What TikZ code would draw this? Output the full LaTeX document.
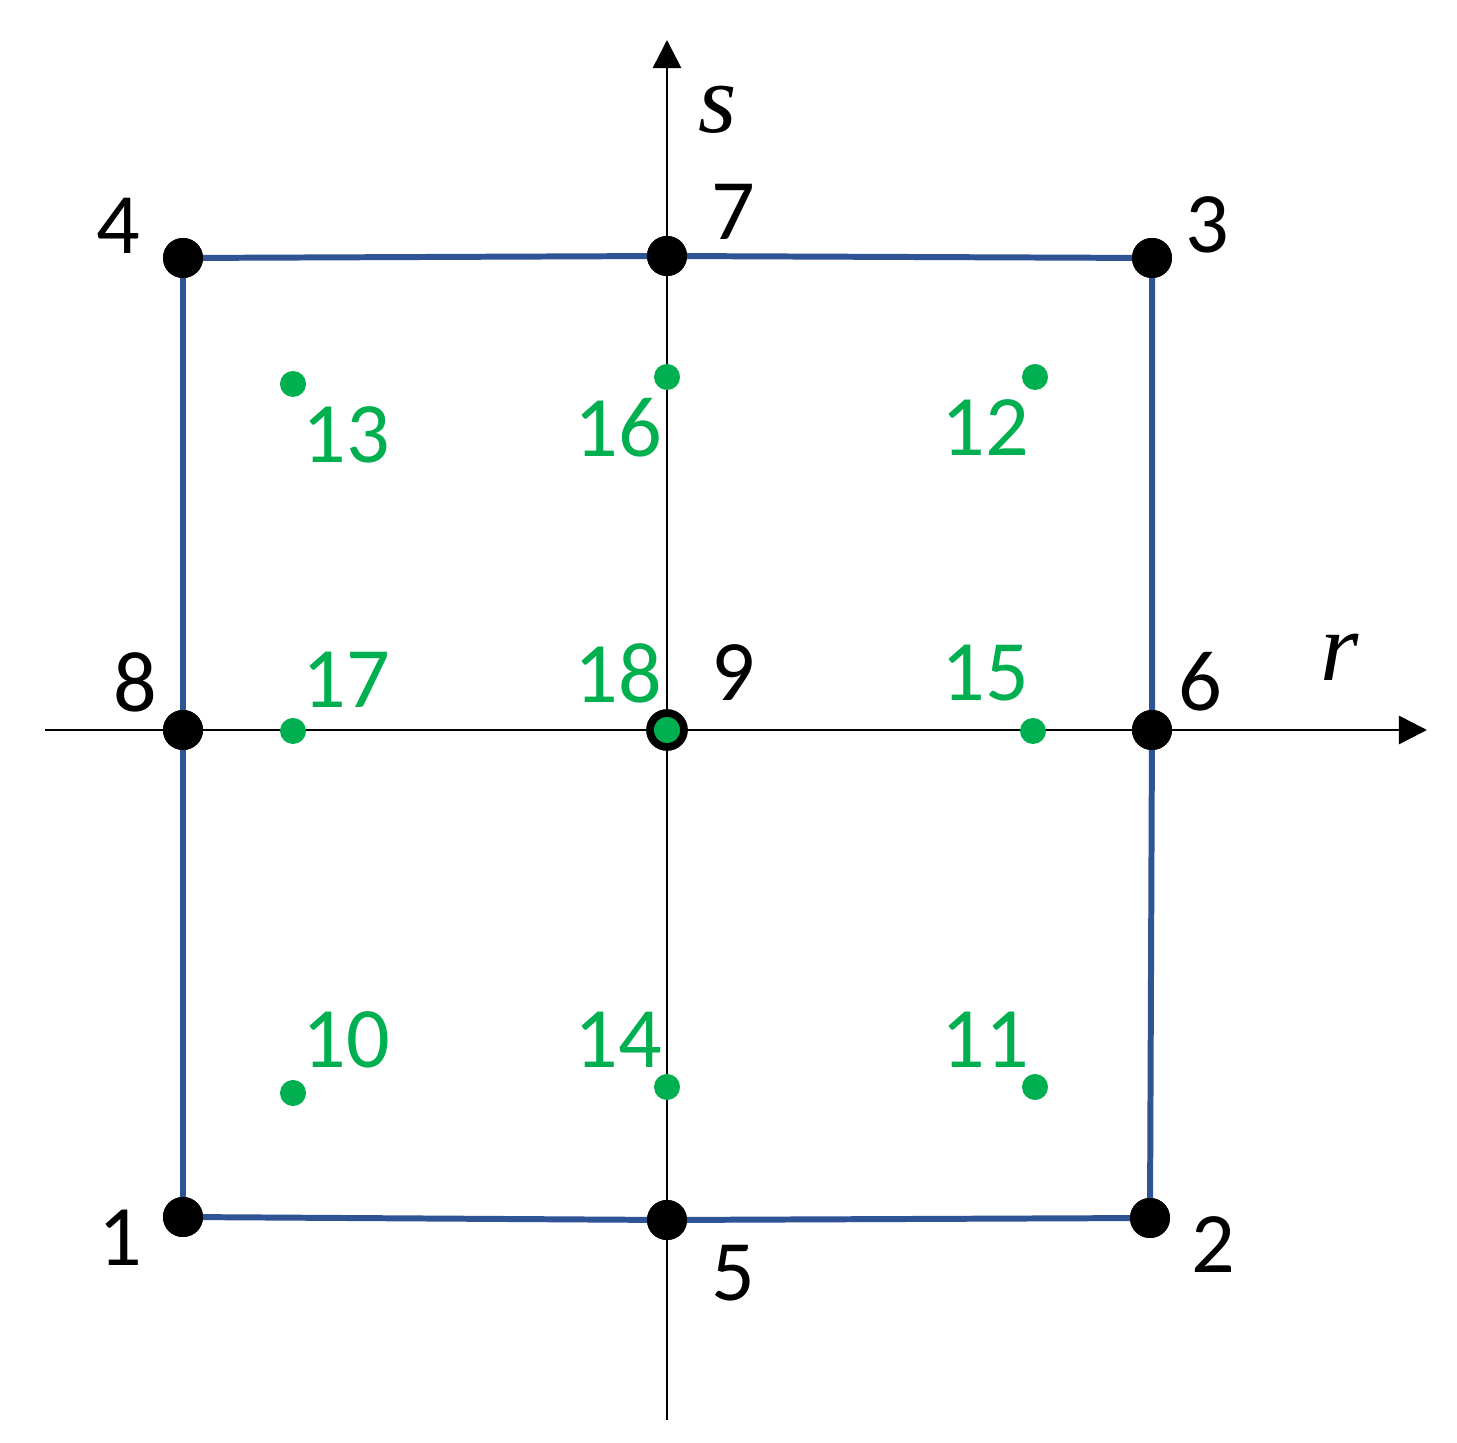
\documentclass[tikz,border=0pt]{standalone}
\usepackage{fontspec}
\setmainfont{Carlito}
\newfontfamily\serifit{Liberation Serif}
\usetikzlibrary{arrows.meta}
\definecolor{edgeblue}{HTML}{2F5496}
\definecolor{gpgreen}{HTML}{00B050}
\begin{document}
\begin{tikzpicture}[x=0.01cm,y=-0.01cm,
  axis/.style={line width=0.75pt,black},
  edge/.style={line width=1.7pt,edgeblue},
  corner/.style={circle,fill=black,inner sep=0pt,minimum size=0.4cm},
  gpt/.style={circle,fill=gpgreen,inner sep=0pt,minimum size=0.26cm},
  lbl/.style={inner sep=0pt,font=\fontsize{24.5}{29}\selectfont},
  glbl/.style={lbl,text=gpgreen},
  ilbl/.style={inner sep=0pt,font=\serifit\itshape\fontsize{28}{32}\selectfont}]
\useasboundingbox[fill=white] (0,0) rectangle (1457,1443);
% axes
\coordinate (xs) at (45,730);
\coordinate (xe) at (1427,730);
\coordinate (ys) at (667,1420);
\coordinate (ye) at (667,40);
\draw[axis,-{Triangle[length=8pt,width=8pt]}] (xs) -- (xe);
\draw[axis,-{Triangle[length=8pt,width=8pt]}] (ys) -- (ye);
% corner nodes
\node[corner] (n1) at (183,1217) {};
\node[corner] (n2) at (1150,1218) {};
\node[corner] (n3) at (1152,258) {};
\node[corner] (n4) at (183,258) {};
\node[corner] (n5) at (667,1220) {};
\node[corner] (n6) at (1152,730) {};
\node[corner] (n7) at (667,256) {};
\node[corner] (n8) at (183,730) {};
% blue edges
\draw[edge] (n4.center) -- (n7.center) -- (n3.center);
\draw[edge] (n3.center) -- (n6.center) -- (n2.center);
\draw[edge] (n2.center) -- (n5.center) -- (n1.center);
\draw[edge] (n1.center) -- (n8.center) -- (n4.center);
% redraw nodes on top
\foreach \n in {n1,n2,n3,n4,n5,n6,n7,n8}{\fill (\n) circle[radius=20];}
% center node
\node[circle,fill=gpgreen,draw=black,line width=2.2pt,inner sep=0pt,minimum size=0.34cm] (n9) at (667,730) {};
% gauss points
\node[gpt] (g10) at (293,1093) {};
\node[gpt] (g11) at (1035,1087) {};
\node[gpt] (g12) at (1035,377) {};
\node[gpt] (g13) at (293,384) {};
\node[gpt] (g14) at (667,1087) {};
\node[gpt] (g15) at (1033,731) {};
\node[gpt] (g16) at (667,377) {};
\node[gpt] (g17) at (293,731) {};
% black labels
\node[lbl] (l1) at (120,1238) {1};
\node[lbl] (l2) at (1213,1245) {2};
\node[lbl] (l3) at (1207,225) {3};
\node[lbl] (l4) at (118,226) {4};
\node[lbl] (l5) at (733,1273) {5};
\node[lbl] (l6) at (1200,682) {6};
\node[lbl] (l7) at (733,212) {7};
\node[lbl] (l8) at (135,682) {8};
\node[lbl] (l9) at (733,673) {9};
% green labels
\node[glbl] (l10) at (346,1040) {10};
\node[glbl] (l11) at (985,1040) {11};
\node[glbl] (l12) at (985,428) {12};
\node[glbl] (l13) at (346,435) {13};
\node[glbl] (l14) at (618,1040) {14};
\node[glbl] (l15) at (985,673) {15};
\node[glbl] (l16) at (618,428) {16};
\node[glbl] (l17) at (346,680) {17};
\node[glbl] (l18) at (618,673) {18};
% axis labels
\node[ilbl] (ls) at (718,110) {s};
\node[ilbl] (lr) at (1340,657) {r};
\end{tikzpicture}
\end{document}
